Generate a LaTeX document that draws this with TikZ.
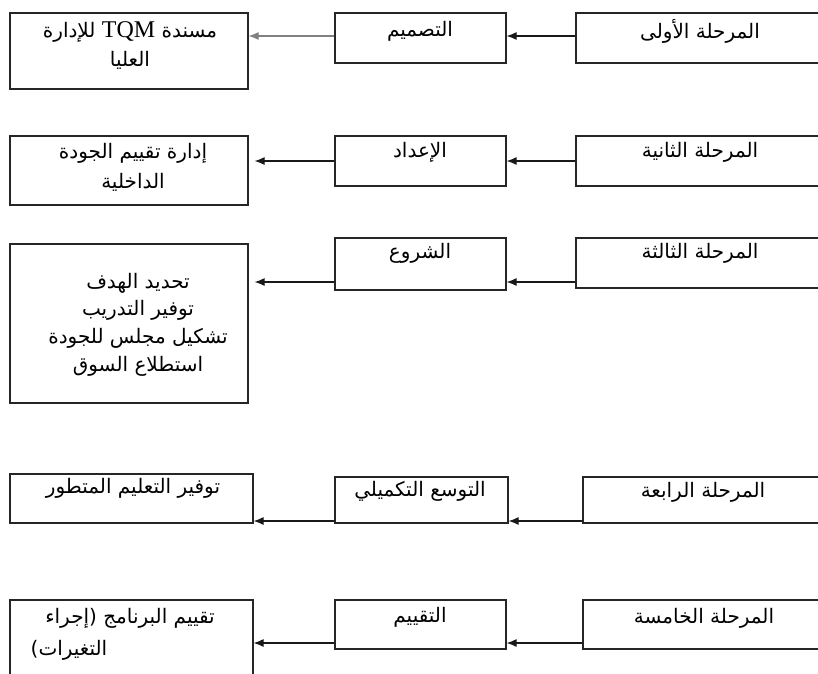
\documentclass[tikz,border=0pt]{standalone}
\usepackage{fontspec}
\setmainfont{Liberation Serif}
\newfontfamily\arabicfont[Script=Arabic]{DejaVu Sans}
\TeXXeTstate=1
\usetikzlibrary{arrows.meta}
\tikzset{
  box/.style={draw=black!85, line width=1.6pt, anchor=north west, inner sep=0pt},
  arr/.style={draw=black!90, line width=1.1pt, -{Latex[length=10pt,width=8pt]}},
  txt/.style={font=\arabicfont\fontsize{20}{24}\selectfont, inner sep=0pt},
}
\newcommand{\ar}[1]{\beginR #1\endR}
\begin{document}
\begin{tikzpicture}[x=1pt,y=-1pt]
\useasboundingbox (0,0) rectangle (818,673);
\clip (0,0) rectangle (818,673);
% row 1
\node[box, minimum width=238, minimum height=76] (l1) at (9,12) {};
\node[box, minimum width=171, minimum height=50] (m1) at (334,12) {};
\node[box, minimum width=255, minimum height=50] (r1) at (575,12) {};
\node[txt] (t1a) at (130,32) {\ar{مسندة \beginL{\rmfamily\fontsize{24}{28}\selectfont TQM}\endL{} للإدارة}};
\node[txt] (t1b) at (130,60) {\ar{العليا}};
\node[txt] (t1m) at (420,31) {\ar{التصميم}};
\node[txt] (t1r) at (700,31) {\ar{المرحلة الأولى}};
\coordinate (y1) at (0,36);
\draw[arr] (r1.west |- y1) -- (m1.east |- y1);
\draw[arr, draw=black!50] (m1.west |- y1) -- (l1.east |- y1);
% row 2
\node[box, minimum width=238, minimum height=69] (l2) at (9,135) {};
\node[box, minimum width=171, minimum height=50] (m2) at (334,135) {};
\node[box, minimum width=255, minimum height=50] (r2) at (575,135) {};
\node[txt] (t2a) at (133,153) {\ar{إدارة تقييم الجودة}};
\node[txt] (t2b) at (133,182) {\ar{الداخلية}};
\node[txt] (t2m) at (420,152) {\ar{الإعداد}};
\node[txt] (t2r) at (700,152) {\ar{المرحلة الثانية}};
\coordinate (y2) at (0,161);
\draw[arr] (r2.west |- y2) -- (m2.east |- y2);
\draw[arr, shorten >=6pt] (m2.west |- y2) -- (l2.east |- y2);
% row 3
\node[box, minimum width=238, minimum height=159] (l3) at (9,243) {};
\node[box, minimum width=171, minimum height=52] (m3) at (334,237) {};
\node[box, minimum width=255, minimum height=50] (r3) at (575,237) {};
\node[txt] (t3a) at (138,283) {\ar{تحديد الهدف}};
\node[txt] (t3b) at (138,310) {\ar{توفير التدريب}};
\node[txt] (t3c) at (138,338) {\ar{تشكيل مجلس للجودة}};
\node[txt] (t3d) at (138,366) {\ar{استطلاع السوق}};
\node[txt] (t3m) at (420,253) {\ar{الشروع}};
\node[txt] (t3r) at (700,253) {\ar{المرحلة الثالثة}};
\coordinate (y3) at (0,282);
\draw[arr] (r3.west |- y3) -- (m3.east |- y3);
\draw[arr, shorten >=6pt] (m3.west |- y3) -- (l3.east |- y3);
% row 4
\node[box, minimum width=243, minimum height=49] (l4) at (9,473) {};
\node[box, minimum width=173, minimum height=46] (m4) at (334,476) {};
\node[box, minimum width=248, minimum height=46] (r4) at (582,476) {};
\node[txt] (t4a) at (133,488) {\ar{توفير التعليم المتطور}};
\node[txt] (t4m) at (420,491) {\ar{التوسع التكميلي}};
\node[txt] (t4r) at (703,492) {\ar{المرحلة الرابعة}};
\coordinate (y4) at (0,521);
\draw[arr] (r4.west |- y4) -- (m4.east |- y4);
\draw[arr] (m4.west |- y4) -- (l4.east |- y4);
% row 5
\node[box, minimum width=243, minimum height=100] (l5) at (9,599) {};
\node[box, minimum width=171, minimum height=49] (m5) at (334,599) {};
\node[box, minimum width=248, minimum height=49] (r5) at (582,599) {};
\node[txt] (t5a) at (130,618) {\ar{تقييم البرنامج (إجراء}};
\node[txt] (t5b) at (69,650) {\ar{التغيرات)}};
\node[txt] (t5m) at (420,617) {\ar{التقييم}};
\node[txt] (t5r) at (704,618) {\ar{المرحلة الخامسة}};
\coordinate (y5) at (0,643);
\draw[arr] (r5.west |- y5) -- (m5.east |- y5);
\draw[arr] (m5.west |- y5) -- (l5.east |- y5);
\end{tikzpicture}
\end{document}
